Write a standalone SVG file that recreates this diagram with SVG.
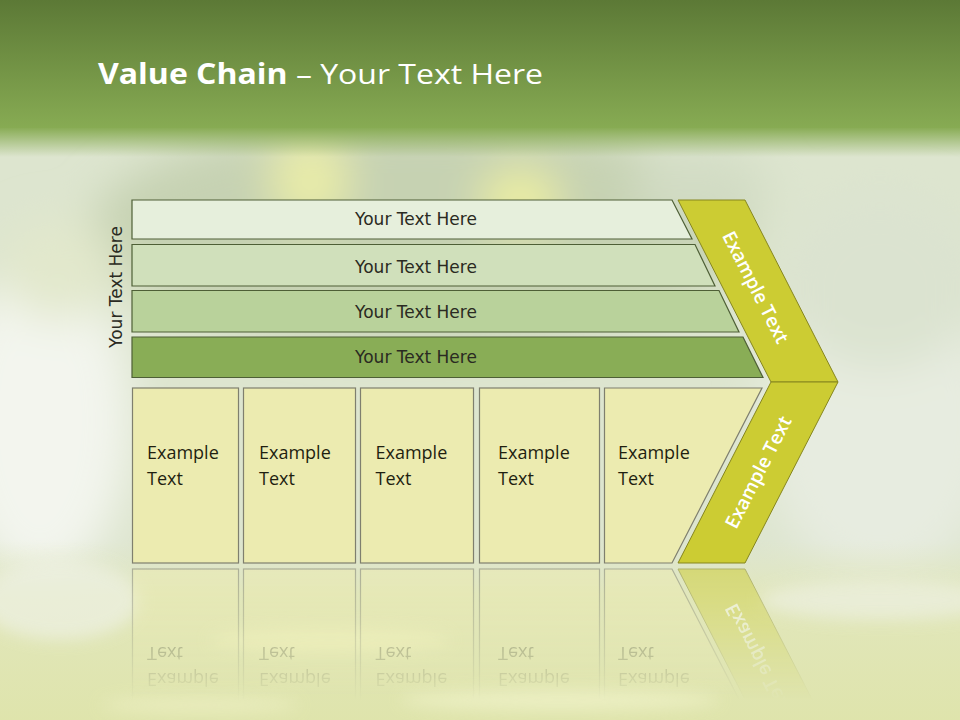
<svg xmlns="http://www.w3.org/2000/svg" xmlns:xlink="http://www.w3.org/1999/xlink" width="960" height="720" viewBox="0 0 960 720">
<defs>
<style>
.bar{stroke:#4e5f36;stroke-width:1.2}
.bt{font-family:"DejaVu Sans",sans-serif;font-size:17px;fill:#2a2a22;text-anchor:middle}
.box{fill:#ecebb0;stroke:#7f7f6e;stroke-width:1.2}
.xt{font-family:"Open Sans",sans-serif;font-size:18px;fill:#1f1f10}
.chev{fill:#cccc33;stroke:#86861e;stroke-width:1}
.ct{font-family:"Open Sans",sans-serif;font-size:19px;font-weight:600;fill:#ffffff;text-anchor:middle}
</style>
<linearGradient id="hdr" x1="0" y1="0" x2="0" y2="1">
<stop offset="0" stop-color="#5c7936"/>
<stop offset="1" stop-color="#87ab53"/>
</linearGradient>
<linearGradient id="hfade" x1="0" y1="0" x2="0" y2="1">
<stop offset="0" stop-color="#87ab53" stop-opacity="1"/>
<stop offset="1" stop-color="#87ab53" stop-opacity="0"/>
</linearGradient>
<linearGradient id="water" x1="0" y1="0" x2="0" y2="1">
<stop offset="0" stop-color="#e3e8c4" stop-opacity="0"/>
<stop offset="0.3" stop-color="#e2e7b6" stop-opacity="0.8"/>
<stop offset="1" stop-color="#dfe4a8" stop-opacity="0.9"/>
</linearGradient>
<filter id="blur" x="-50%" y="-50%" width="200%" height="200%">
<feGaussianBlur stdDeviation="22"/>
</filter>
<filter id="blur2" x="-50%" y="-50%" width="200%" height="200%">
<feGaussianBlur stdDeviation="8"/>
</filter>
<linearGradient id="rfade" gradientUnits="userSpaceOnUse" x1="0" y1="566" x2="0" y2="700">
<stop offset="0" stop-color="#fff" stop-opacity="0.55"/>
<stop offset="1" stop-color="#fff" stop-opacity="0"/>
</linearGradient>
<mask id="rmask" maskUnits="userSpaceOnUse" x="0" y="560" width="960" height="160">
<rect x="0" y="560" width="960" height="160" fill="url(#rfade)"/>
</mask>
</defs>

<!-- background -->
<g id="background">
<rect width="960" height="720" fill="#dde5cf"/>
<g filter="url(#blur)">
<ellipse cx="420" cy="230" rx="330" ry="110" fill="#c6d2b2"/>
<ellipse cx="310" cy="180" rx="40" ry="45" fill="#e9eca8"/>
<ellipse cx="520" cy="200" rx="40" ry="30" fill="#eef0a0"/>
<ellipse cx="700" cy="190" rx="70" ry="40" fill="#d2dcc4"/>
<ellipse cx="40" cy="420" rx="90" ry="160" fill="#f3f5ee"/>
<ellipse cx="880" cy="420" rx="120" ry="160" fill="#e7ece0"/>
<ellipse cx="880" cy="280" rx="100" ry="90" fill="#dbe3d0"/>
<ellipse cx="60" cy="270" rx="60" ry="50" fill="#e2e8cc"/>
</g>
<rect x="0" y="540" width="960" height="180" fill="url(#water)"/>
<g filter="url(#blur2)" opacity="0.7">
<ellipse cx="330" cy="640" rx="120" ry="12" fill="#f0f2c0"/>
<ellipse cx="560" cy="700" rx="160" ry="10" fill="#f2f4cc"/>
<ellipse cx="200" cy="705" rx="100" ry="8" fill="#eef0c4"/>
<ellipse cx="880" cy="600" rx="120" ry="20" fill="#edf0e2"/>
<ellipse cx="60" cy="600" rx="80" ry="40" fill="#eef1e4"/>
</g>
<rect x="0" y="0" width="960" height="128" fill="url(#hdr)"/>
<rect x="0" y="127" width="960" height="30" fill="url(#hfade)"/>
</g>

<!-- title -->
<text id="title" x="98" y="84" font-family="Open Sans, sans-serif" font-size="28" fill="#ffffff" textLength="445" lengthAdjust="spacingAndGlyphs"><tspan font-weight="bold">Value Chain</tspan> – Your Text Here</text>

<g id="diagram">
<g id="side-label">
<text class="bt" transform="translate(122,287) rotate(-90)" x="0" y="0">Your Text Here</text>
</g>

<g id="bar1">
<polygon class="bar" points="132,200 672,200 692,239 132,239" fill="#e6efdc"/>
<text class="bt" x="416" y="225">Your Text Here</text>
</g>
<g id="bar2">
<polygon class="bar" points="132,244.5 695,244.5 715,286 132,286" fill="#d0e0bb"/>
<text class="bt" x="416" y="273">Your Text Here</text>
</g>
<g id="bar3">
<polygon class="bar" points="132,290.5 719,290.5 739,332 132,332" fill="#b9d29b"/>
<text class="bt" x="416" y="318">Your Text Here</text>
</g>
<g id="bar4">
<polygon class="bar" points="132,337 743,337 763,377.5 132,377.5" fill="#89ad56"/>
<text class="bt" x="416" y="363">Your Text Here</text>
</g>

<g id="chevron-top">
<polygon class="chev" points="678,200 745,200 838,382 771,382"/>
<text class="ct" transform="translate(756,287) rotate(63)" x="0" y="7">Example Text</text>
</g>

<g id="lower">
<g id="chevron-bottom">
<polygon class="chev" points="771,382 838,382 745,563 678,563"/>
<text class="ct" transform="translate(758,472) rotate(-63)" x="0" y="7">Example Text</text>
</g>
<g id="box1">
<rect class="box" x="132.5" y="388" width="106" height="175"/>
<text class="xt" x="147" y="459">Example</text>
<text class="xt" x="147" y="485">Text</text>
</g>
<g id="box2">
<rect class="box" x="243.5" y="388" width="112" height="175"/>
<text class="xt" x="259" y="459">Example</text>
<text class="xt" x="259" y="485">Text</text>
</g>
<g id="box3">
<rect class="box" x="360.5" y="388" width="113" height="175"/>
<text class="xt" x="375.5" y="459">Example</text>
<text class="xt" x="375.5" y="485">Text</text>
</g>
<g id="box4">
<rect class="box" x="479.5" y="388" width="120" height="175"/>
<text class="xt" x="498" y="459">Example</text>
<text class="xt" x="498" y="485">Text</text>
</g>
<g id="box5">
<polygon class="box" points="604.5,388 762,388 672,563 604.5,563"/>
<text class="xt" x="618" y="459">Example</text>
<text class="xt" x="618" y="485">Text</text>
</g>
</g>

<g id="reflection" mask="url(#rmask)">
<use xlink:href="#lower" href="#lower" transform="translate(0,1132) scale(1,-1)"/>
</g>
</g>
</svg>
